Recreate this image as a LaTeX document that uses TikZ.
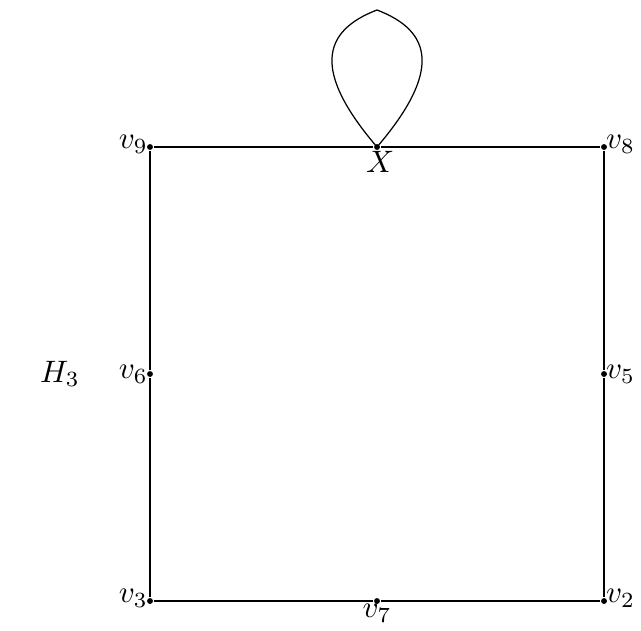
\documentclass[tikz,border=0pt]{standalone}
\begin{document}
\begin{tikzpicture}[x=0.3226pt,y=-0.3226pt,
  vtx/.style={circle,fill=black,inner sep=0pt,minimum size=1.9pt},
  edge/.style={line width=0.4pt},
  lbl/.style={inner sep=0.5pt}]
\useasboundingbox (0,0) rectangle (641,630);
\node[vtx] (v9) at (150,147) {};
\node[vtx] (X)  at (377,147) {};
\node[vtx] (v8) at (604,147) {};
\node[vtx] (v6) at (150,374) {};
\node[vtx] (v5) at (604,374) {};
\node[vtx] (v3) at (150,601) {};
\node[vtx] (v7) at (377,601) {};
\node[vtx] (v2) at (604,601) {};
\coordinate (top) at (377,10);
\draw[edge] (v9) -- (X) -- (v8) -- (v5) -- (v2) -- (v7) -- (v3) -- (v6) -- (v9);
\draw[edge] (X.center) .. controls (312,71) and (322,31) .. (top);
\draw[edge] (X.center) .. controls (442,71) and (432,31) .. (top);
\node[lbl,anchor=east] at ([yshift=0.8pt]v9) {$v_9$};
\node[lbl,anchor=west] at ([yshift=0.8pt]v8) {$v_8$};
\node[lbl,anchor=north] at ([xshift=1pt,yshift=-0.6pt]X) {$X$};
\node[lbl,anchor=east] at (v6) {$v_6$};
\node[lbl,anchor=west] at (v5) {$v_5$};
\node[lbl,anchor=east] at ([yshift=0.8pt]v3) {$v_3$};
\node[lbl,anchor=west] at ([yshift=0.8pt]v2) {$v_2$};
\node[lbl,anchor=north] at ([yshift=-0.3pt]v7) {$v_7$};
\node (H3) at (60,374) {$H_3$};
\end{tikzpicture}
\end{document}
